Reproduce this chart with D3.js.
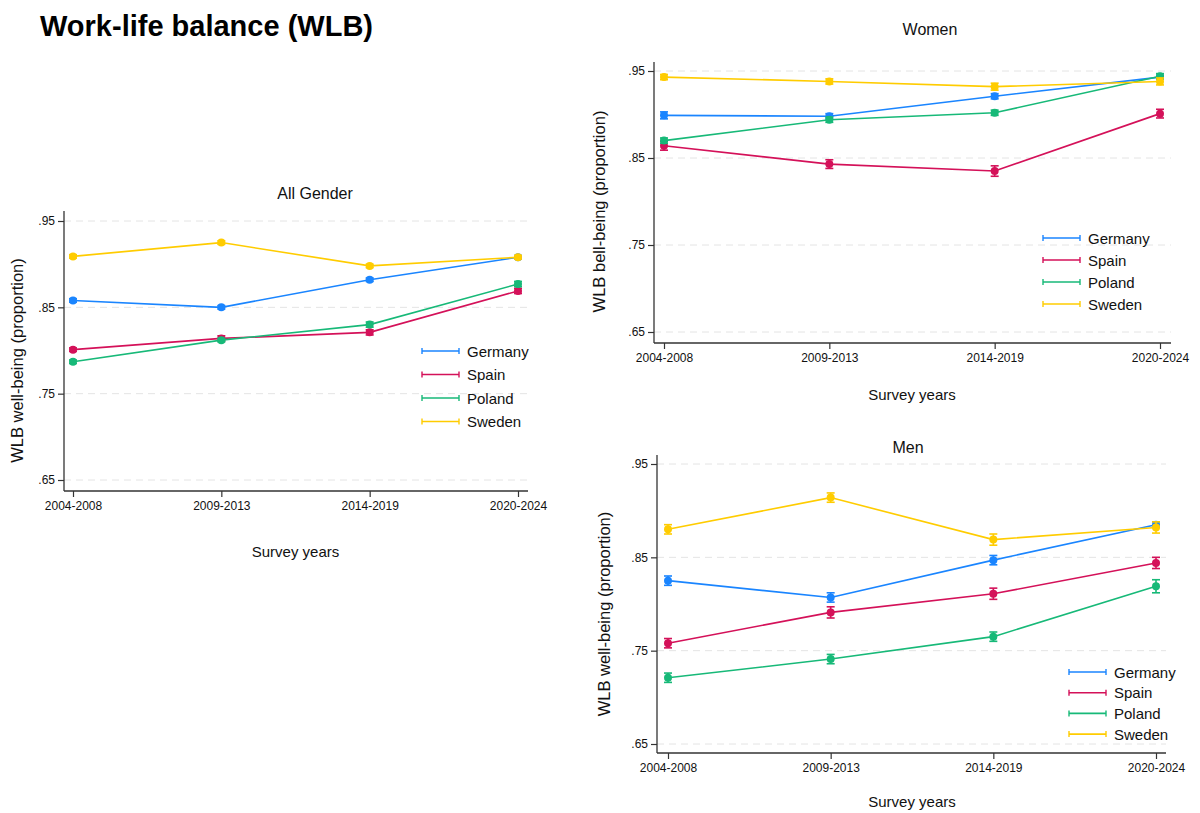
<!DOCTYPE html>
<html>
<head>
<meta charset="utf-8">
<script src="https://cdn.jsdelivr.net/npm/d3@7"></script>
<style>
  body { margin: 0; background: #fff; }
  svg { font-family: "Liberation Sans", Arial, sans-serif; }
</style>
</head>
<body>
<div id="chart"></div>
<script>
// categories
var periods = ["2004-2008", "2009-2013", "2014-2019", "2020-2024"];
var countries = ["Germany", "Spain", "Poland", "Sweden"];
var yTicks = [0.65, 0.75, 0.85, 0.95];

// All gender: estimates and CI half-widths
var allGermany = [0.858, 0.850, 0.882, 0.908];
var allSpain   = [0.801, 0.814, 0.821, 0.869];
var allPoland  = [0.787, 0.812, 0.830, 0.877];
var allSweden  = [0.909, 0.925, 0.898, 0.908];
var allCiGermany = [0.002, 0.002, 0.002, 0.002];
var allCiSpain   = [0.002, 0.003, 0.003, 0.003];
var allCiPoland  = [0.002, 0.002, 0.003, 0.003];
var allCiSweden  = [0.002, 0.002, 0.002, 0.002];

// Women
var womenGermany = [0.899, 0.898, 0.921, 0.943];
var womenSpain   = [0.864, 0.843, 0.835, 0.901];
var womenPoland  = [0.870, 0.894, 0.902, 0.944];
var womenSweden  = [0.943, 0.938, 0.932, 0.938];
var womenCiGermany = [0.004, 0.003, 0.003, 0.002];
var womenCiSpain   = [0.005, 0.005, 0.006, 0.005];
var womenCiPoland  = [0.003, 0.003, 0.003, 0.003];
var womenCiSweden  = [0.003, 0.003, 0.004, 0.004];

// Men
var menGermany = [0.825, 0.807, 0.847, 0.885];
var menSpain   = [0.758, 0.791, 0.811, 0.844];
var menPoland  = [0.721, 0.741, 0.765, 0.819];
var menSweden  = [0.880, 0.914, 0.869, 0.882];
var menCiGermany = [0.005, 0.005, 0.005, 0.003];
var menCiSpain   = [0.005, 0.006, 0.006, 0.006];
var menCiPoland  = [0.005, 0.005, 0.005, 0.007];
var menCiSweden  = [0.005, 0.005, 0.006, 0.006];

var colors = ["#1a85ff", "#d41159", "#17b978", "#ffcc00"];

var panels = [
  { title: "All Gender", ytitle: "WLB well-being (proportion)",
    values: [allGermany, allSpain, allPoland, allSweden],
    ci: [allCiGermany, allCiSpain, allCiPoland, allCiSweden],
    x0: 73, x1: 518, axisX: 64, axisRight: 528, yTop: 221, yBot: 480, axisTop: 211, axisY: 491,
    titleX: 315, titleY: 199, ytitleX: 23, xtitleY: 557,
    legX: 422, legY: 351, legStep: 23.5 },
  { title: "Women", ytitle: "WLB bell-being (proportion)",
    values: [womenGermany, womenSpain, womenPoland, womenSweden],
    ci: [womenCiGermany, womenCiSpain, womenCiPoland, womenCiSweden],
    x0: 664, x1: 1160, axisX: 654, axisRight: 1171, yTop: 71, yBot: 332, axisTop: 62, axisY: 343,
    titleX: 930, titleY: 35, ytitleX: 605, xtitleY: 400,
    legX: 1043, legY: 238, legStep: 22 },
  { title: "Men", ytitle: "WLB well-being (proportion)",
    values: [menGermany, menSpain, menPoland, menSweden],
    ci: [menCiGermany, menCiSpain, menCiPoland, menCiSweden],
    x0: 668, x1: 1156, axisX: 657, axisRight: 1166, yTop: 464, yBot: 744, axisTop: 455, axisY: 753,
    titleX: 908, titleY: 453, ytitleX: 610, xtitleY: 807,
    legX: 1069, legY: 672, legStep: 20.7 }
];

var svg = d3.select("#chart").append("svg")
    .attr("width", 1200)
    .attr("height", 813);

svg.append("text")
    .attr("x", 40).attr("y", 36)
    .attr("font-size", 29).attr("font-weight", "bold")
    .attr("fill", "#000")
    .text("Work-life balance (WLB)");

panels.forEach(function(p) {
  var g = svg.append("g");

  var x = d3.scalePoint().domain(periods).range([p.x0, p.x1]);
  var y = d3.scaleLinear().domain([0.65, 0.95]).range([p.yBot, p.yTop]);

  // gridlines
  g.selectAll(".grid").data(yTicks).enter().append("line")
      .attr("x1", p.axisX).attr("x2", p.axisRight)
      .attr("y1", function(d) { return y(d); })
      .attr("y2", function(d) { return y(d); })
      .attr("stroke", "#e4e4e4").attr("stroke-width", 1)
      .attr("stroke-dasharray", "7,5");

  // y axis
  var yAxis = g.append("g")
      .attr("transform", "translate(" + p.axisX + ",0)")
      .call(d3.axisLeft(y).tickValues(yTicks).tickSize(6).tickPadding(3)
            .tickFormat(function(d) { return d3.format(".2f")(d).replace(/^0/, ""); }));
  yAxis.select(".domain").attr("d", "M0," + p.axisTop + "V" + p.axisY);

  // x axis
  var xAxis = g.append("g")
      .attr("transform", "translate(0," + p.axisY + ")")
      .call(d3.axisBottom(x).tickSize(6).tickPadding(4));
  xAxis.select(".domain").attr("d", "M" + p.axisX + ",0H" + p.axisRight);

  [yAxis, xAxis].forEach(function(a) {
    a.selectAll(".domain").attr("stroke", "#333").attr("stroke-width", 1.3);
    a.selectAll(".tick line").attr("stroke", "#333").attr("stroke-width", 1.2);
    a.selectAll("text").attr("font-size", 12).attr("fill", "#111")
        .attr("font-family", "Liberation Sans, Arial, sans-serif");
  });

  // titles
  g.append("text").attr("x", p.titleX).attr("y", p.titleY)
      .attr("text-anchor", "middle").attr("font-size", 16).attr("fill", "#111")
      .text(p.title);
  g.append("text").attr("x", (p.x0 + p.x1) / 2 + 0).attr("y", p.xtitleY)
      .attr("text-anchor", "middle").attr("font-size", 15).attr("fill", "#111")
      .text("Survey years");
  g.append("text")
      .attr("transform", "translate(" + p.ytitleX + "," + ((p.yTop + p.yBot) / 2 + 10) + ") rotate(-90)")
      .attr("text-anchor", "middle").attr("font-size", 16.5).attr("fill", "#111")
      .text(p.ytitle);

  // series
  var line = d3.line()
      .x(function(d, i) { return x(periods[i]); })
      .y(function(d) { return y(d); });

  p.values.forEach(function(vals, k) {
    var col = colors[k];
    var ci = p.ci[k];
    var sg = g.append("g");
    sg.append("path").datum(vals)
        .attr("fill", "none").attr("stroke", col).attr("stroke-width", 1.6)
        .attr("d", line);

    var pts = sg.selectAll(".pt").data(vals).enter().append("g");
    pts.append("line")
        .attr("x1", function(d, i) { return x(periods[i]); })
        .attr("x2", function(d, i) { return x(periods[i]); })
        .attr("y1", function(d, i) { return y(d - ci[i]); })
        .attr("y2", function(d, i) { return y(d + ci[i]); })
        .attr("stroke", col).attr("stroke-width", 1.6);
    pts.append("line")
        .attr("x1", function(d, i) { return x(periods[i]) - 4; })
        .attr("x2", function(d, i) { return x(periods[i]) + 4; })
        .attr("y1", function(d, i) { return y(d - ci[i]); })
        .attr("y2", function(d, i) { return y(d - ci[i]); })
        .attr("stroke", col).attr("stroke-width", 1.6);
    pts.append("line")
        .attr("x1", function(d, i) { return x(periods[i]) - 4; })
        .attr("x2", function(d, i) { return x(periods[i]) + 4; })
        .attr("y1", function(d, i) { return y(d + ci[i]); })
        .attr("y2", function(d, i) { return y(d + ci[i]); })
        .attr("stroke", col).attr("stroke-width", 1.6);
    pts.append("circle")
        .attr("cx", function(d, i) { return x(periods[i]); })
        .attr("cy", function(d) { return y(d); })
        .attr("r", 4)
        .attr("fill", col);
  });

  // legend
  var leg = g.selectAll(".leg").data(countries).enter().append("g")
      .attr("transform", function(d, i) { return "translate(" + p.legX + "," + (p.legY + i * p.legStep) + ")"; });
  leg.append("line").attr("x1", 0).attr("x2", 37).attr("y1", 0).attr("y2", 0)
      .attr("stroke", function(d, i) { return colors[i]; }).attr("stroke-width", 1.6);
  leg.append("line").attr("x1", 0).attr("x2", 0).attr("y1", -3).attr("y2", 3)
      .attr("stroke", function(d, i) { return colors[i]; }).attr("stroke-width", 1.4);
  leg.append("line").attr("x1", 37).attr("x2", 37).attr("y1", -3).attr("y2", 3)
      .attr("stroke", function(d, i) { return colors[i]; }).attr("stroke-width", 1.4);
  leg.append("text").attr("x", 45).attr("y", 5.5)
      .attr("font-size", 15).attr("fill", "#111")
      .text(function(d) { return d; });
});
</script>
</body>
</html>
